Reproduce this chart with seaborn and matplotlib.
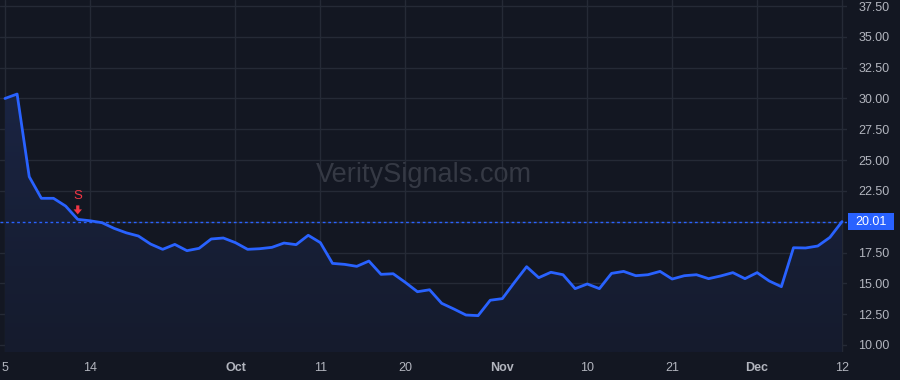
import numpy as np
import pandas as pd
import matplotlib
matplotlib.use("Agg")
import matplotlib.pyplot as plt
import matplotlib.patches as mpatches
import seaborn as sns

# ---- data ----
values = [30.00, 30.36, 23.65, 21.90, 21.90, 21.27, 20.19, 20.08, 19.92, 19.46,
          19.10, 18.84, 18.19, 17.76, 18.16, 17.65, 17.84, 18.60, 18.68, 18.30,
          17.76, 17.81, 17.92, 18.27, 18.14, 18.90, 18.30, 16.62, 16.54, 16.38,
          16.81, 15.73, 15.78, 15.08, 14.32, 14.48, 13.38, 12.92, 12.43, 12.38,
          13.63, 13.76, 15.08, 16.35, 15.46, 15.90, 15.70, 14.57, 14.95, 14.57,
          15.81, 15.97, 15.62, 15.70, 15.97, 15.35, 15.62, 15.70, 15.38, 15.60,
          15.87, 15.38, 15.87, 15.19, 14.73, 17.89, 17.87, 18.03, 18.73, 20.01]
tick_index = [0, 7, 19, 26, 33, 41, 48, 55, 62, 69]
tick_labels = ["5", "14", "Oct", "11", "20", "Nov", "10", "21", "Dec", "12"]
month_labels = ["Oct", "Nov", "Dec"]
y_ticks = [10.0, 12.5, 15.0, 17.5, 20.0, 22.5, 25.0, 27.5, 30.0, 32.5, 35.0, 37.5]
last_price = 20.01
signal_index = 6
signal_label = "S"

df = pd.DataFrame({"i": np.arange(len(values)), "price": values})

# ---- style ----
BG = "#131722"
GRID = "#252a36"
LINE = "#2962ff"
TXT = "#b2b5be"
RED = "#f23645"

sns.set_theme(style="dark")
plt.rcParams["font.family"] = ["Liberation Sans", "DejaVu Sans"]

W, H = 900, 380
fig = plt.figure(figsize=(9, 3.8), dpi=100, facecolor=BG)
ax = fig.add_axes([0, 28 / H, 847 / W, 352 / H])
ax.set_facecolor(BG)

x0, x1 = -0.41, 69.41
y0, y1 = 9.43, 37.99
ax.set_xlim(x0, x1)
ax.set_ylim(y0, y1)

# grid
for t in tick_index:
    ax.axvline(t, color=GRID, lw=1, zorder=0)
for t in y_ticks:
    ax.axhline(t, color=GRID, lw=1, zorder=0)

# watermark
ax.text(0.5, 1 - 182 / 352, "VeritySignals.com", transform=ax.transAxes,
        ha="center", va="baseline", fontsize=19.5, color="#353944",
        family=["Liberation Sans", "DejaVu Sans"], zorder=1)

# gradient fill under the line
xs = df["i"].to_numpy()
ys = df["price"].to_numpy()
grad = np.linspace(0, 1, 256).reshape(-1, 1)
cmap = matplotlib.colors.LinearSegmentedColormap.from_list(
    "g", [(0.0, "#151b2d"), (1.0, "#1a2442")])
im = ax.imshow(grad, extent=[x0, x1, y0, max(ys)], origin="lower",
               aspect="auto", cmap=cmap, zorder=2)
poly = ax.fill_between(xs, ys, y0, color="none", lw=0)
path = poly.get_paths()[0]
im.set_clip_path(path, transform=ax.transData)
ax.set_xlim(x0, x1)
ax.set_ylim(y0, y1)

# line
sns.lineplot(data=df, x="i", y="price", ax=ax, color=LINE, lw=2, zorder=4)

# last price dashed line
ax.axhline(last_price, color=LINE, lw=1, ls=(0, (2, 2)), zorder=3)

# signal marker (text + block arrow, sized in pixels above the point)
sv = values[signal_index]
px, py = ax.transData.transform((signal_index, sv))
ax.text(px, py + 23, signal_label, transform=None, color=RED, ha="center",
        va="center", fontsize=9.5, zorder=5)
arrow = mpatches.Polygon(
    [(px - 1.6, py + 14), (px + 1.6, py + 14), (px + 1.6, py + 10),
     (px + 4.2, py + 10), (px, py + 5), (px - 4.2, py + 10), (px - 1.6, py + 10)],
    closed=True, transform=None, fc=RED, ec="none", zorder=5)
ax.add_artist(arrow)

# axes / ticks
ax.set_xticks(tick_index)
ax.set_xticklabels(tick_labels)
for lab in ax.get_xticklabels():
    lab.set_color(TXT)
    lab.set_fontsize(9)
    if lab.get_text() in month_labels:
        lab.set_fontweight("bold")
ax.tick_params(axis="x", length=0, pad=7)

ax.yaxis.tick_right()
ax.set_yticks(y_ticks)
ax.set_yticklabels(["" if abs(v - last_price) < 0.6 else f"{v:.2f}" for v in y_ticks])
ax.tick_params(axis="y", length=0, pad=8, labelsize=9, labelcolor=TXT)
ax.set_xlabel("")
ax.set_ylabel("")
for s in ax.spines.values():
    s.set_visible(False)
ax.grid(False)

# price label box on the scale
lx, ly = ax.transData.transform((x1, last_price))
box = mpatches.Rectangle((lx + 1, ly - 8.5), 46, 17, transform=None,
                         fc=LINE, ec="none", zorder=6, clip_on=False)
fig.patches.append(box)
fig.text((lx + 24) / W, ly / H, f"{last_price:.2f}", ha="center", va="center",
         color="white", fontsize=9, zorder=7)

fig.savefig("out.png", dpi=100, facecolor=BG)
